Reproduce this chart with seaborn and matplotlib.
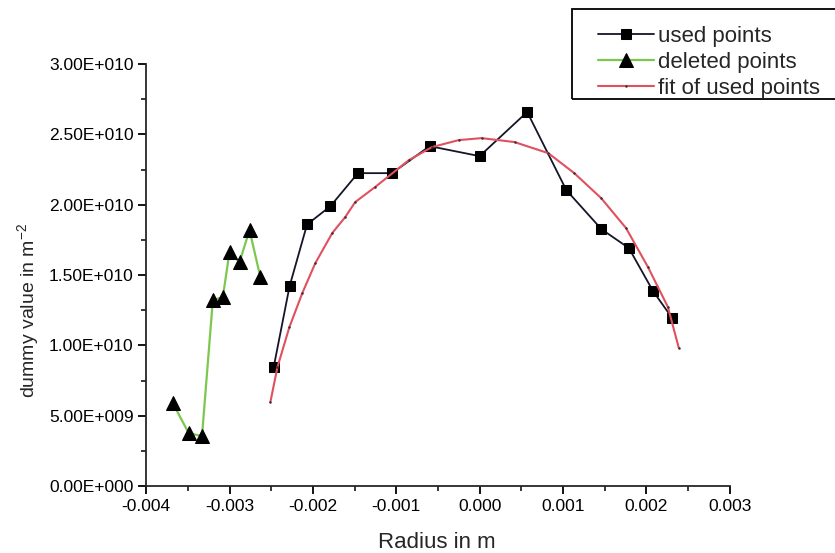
import matplotlib
matplotlib.use("Agg")
import matplotlib.pyplot as plt
from matplotlib.patches import Rectangle
from matplotlib.ticker import FuncFormatter, MultipleLocator
import seaborn as sns
import pandas as pd

# deleted points (triangles)
deleted_x = [-0.00368, -0.00349, -0.00333, -0.00320, -0.00308, -0.00300, -0.00288, -0.00276, -0.00263]
deleted_y = [5.9e9, 3.77e9, 3.55e9, 1.322e10, 1.344e10, 1.664e10, 1.592e10, 1.82e10, 1.486e10]

# used points (squares)
used_x = [-0.00247, -0.00228, -0.00207, -0.00179, -0.00146, -0.00105, -0.00060,
          0.00000, 0.00057, 0.00104, 0.00146, 0.00179, 0.00208, 0.00231]
used_y = [8.46e9, 1.42e10, 1.86e10, 1.99e10, 2.225e10, 2.225e10, 2.417e10,
          2.346e10, 2.66e10, 2.104e10, 1.827e10, 1.692e10, 1.386e10, 1.194e10]

# fit curve
fit_x = [-0.00251, -0.002425, -0.002282, -0.002127, -0.001971, -0.001768, -0.001613,
         -0.001493, -0.001254, -0.000848, -0.000573, -0.000251, 0.000024, 0.000418,
         0.000824, 0.001135, 0.001458, 0.001756, 0.002019, 0.002258, 0.002389]
fit_y = [5.97e9, 8.46e9, 1.130e10, 1.372e10, 1.585e10, 1.799e10, 1.912e10,
         2.019e10, 2.126e10, 2.318e10, 2.410e10, 2.460e10, 2.474e10, 2.446e10,
         2.367e10, 2.225e10, 2.047e10, 1.834e10, 1.557e10, 1.273e10, 9.81e9]

sns.set_style("ticks")
plt.rcParams['font.family'] = ['Liberation Sans', 'DejaVu Sans']
plt.rcParams['mathtext.default'] = 'regular'

W, H = 835, 553
fig = plt.figure(figsize=(W / 100, H / 100), dpi=100)
ax = fig.add_axes([0.175, 0.121, 0.699, 0.763])

df_used = pd.DataFrame({"x": used_x, "y": used_y})
df_del = pd.DataFrame({"x": deleted_x, "y": deleted_y})
df_fit = pd.DataFrame({"x": fit_x, "y": fit_y})

sns.lineplot(data=df_used, x="x", y="y", ax=ax, sort=False, color="#15152a",
             lw=1.3, marker="s", markersize=7.5, markerfacecolor="black",
             markeredgecolor="black", label="used points")
sns.lineplot(data=df_del, x="x", y="y", ax=ax, sort=False, color="#7cc84e",
             lw=1.6, marker="^", markersize=10, markerfacecolor="black",
             markeredgecolor="black", label="deleted points")
sns.lineplot(data=df_fit, x="x", y="y", ax=ax, sort=False, color="#e0505e",
             lw=1.5, marker=".", markersize=2, markerfacecolor="#333333",
             markeredgecolor="#333333", label="fit of used points")

ax.set_xlim(-0.004, 0.003)
ax.set_ylim(0, 3e10)
ax.xaxis.set_major_locator(MultipleLocator(0.001))
ax.xaxis.set_minor_locator(MultipleLocator(0.0005))
ax.yaxis.set_major_locator(MultipleLocator(5e9))
ax.yaxis.set_minor_locator(MultipleLocator(2.5e9))


def fmt_x(v, pos):
    if abs(v) < 1e-9:
        v = 0.0
    return f"{v:.3f}"


def fmt_y(v, pos):
    if v == 0:
        return "0.00E+000"
    s = f"{v:.2E}"
    mant, exp = s.split("E")
    e = int(exp)
    sign = "+" if e >= 0 else "-"
    return f"{mant}E{sign}{abs(e):03d}"


ax.xaxis.set_major_formatter(FuncFormatter(fmt_x))
ax.yaxis.set_major_formatter(FuncFormatter(fmt_y))

ax.tick_params(which="major", direction="out", length=6, width=1.3, labelsize=12.5,
               colors="black", pad=3)
ax.tick_params(which="minor", direction="out", length=3.5, width=1.3)
for side in ["left", "bottom"]:
    ax.spines[side].set_linewidth(1.3)
sns.despine(ax=ax)

ax.set_xlabel("Radius in m", fontsize=16)
ax.set_ylabel("dummy value in m$^{-2}$", fontsize=14)
ax.xaxis.set_label_coords(0.498, -0.108)
ax.yaxis.set_label_coords(-0.18, 0.417)

# legend: frame drawn separately so the inner padding can differ per side
handles, labels = ax.get_legend_handles_labels()
ax.get_legend().remove()
fig.patches.append(Rectangle((572 / W, 1 - 99 / H), (W - 572 + 10) / W, 90 / H,
                             transform=fig.transFigure, fill=False,
                             edgecolor="black", linewidth=1.3))
fig.legend(handles, labels, loc="upper left", bbox_to_anchor=(598 / W, 1 - 26 / H),
           frameon=False, fontsize=16, handlelength=2.5, handletextpad=0.2,
           labelspacing=0.23, borderpad=0, borderaxespad=0)

fig.savefig("out.png", dpi=100)
